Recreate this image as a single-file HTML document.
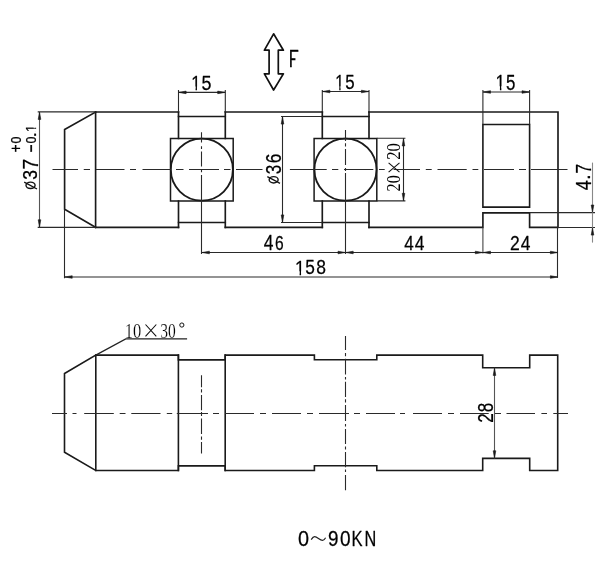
<!DOCTYPE html>
<html><head><meta charset="utf-8"><style>
html,body{margin:0;padding:0;background:#fff;}
svg{display:block;filter:grayscale(1);}
</style></head><body>
<svg width="600" height="565" viewBox="0 0 600 565">
<rect width="600" height="565" fill="#fff"/>
<g opacity="0.999">
<text x="0" y="0" font-size="2048" font-family="Liberation Sans" transform="matrix(0.008216 0.000000 0.000000 0.010291 191.281363 89.800000)" fill="#000" stroke="#000" stroke-width="27.0" stroke-linejoin="round">1</text>
<path transform="matrix(0.008216 0.000000 0.000000 0.010291 191.281363 89.800000)" fill="#fff" d="M50,-330 H520 V280 H50 Z M691,-330 H1150 V280 H691 Z"/>
<text x="0" y="0" font-size="2048" font-family="Liberation Sans" transform="matrix(0.008754 0.000000 0.000000 0.010147 201.482183 89.797061)" fill="#000" stroke="#000" stroke-width="26.5" stroke-linejoin="round">5</text>
<text x="0" y="0" font-size="2048" font-family="Liberation Sans" transform="matrix(0.007615 0.000000 0.000000 0.010504 335.299800 89.800000)" fill="#000" stroke="#000" stroke-width="27.6" stroke-linejoin="round">1</text>
<path transform="matrix(0.007615 0.000000 0.000000 0.010504 335.299800 89.800000)" fill="#fff" d="M50,-330 H520 V280 H50 Z M691,-330 H1150 V280 H691 Z"/>
<text x="0" y="0" font-size="2048" font-family="Liberation Sans" transform="matrix(0.008239 0.000000 0.000000 0.010007 345.324408 89.099860)" fill="#000" stroke="#000" stroke-width="27.4" stroke-linejoin="round">5</text>
<text x="0" y="0" font-size="2048" font-family="Liberation Sans" transform="matrix(0.008417 0.000000 0.000000 0.010504 495.541884 89.800000)" fill="#000" stroke="#000" stroke-width="26.4" stroke-linejoin="round">1</text>
<path transform="matrix(0.008417 0.000000 0.000000 0.010504 495.541884 89.800000)" fill="#fff" d="M50,-330 H520 V280 H50 Z M691,-330 H1150 V280 H691 Z"/>
<text x="0" y="0" font-size="2048" font-family="Liberation Sans" transform="matrix(0.008239 0.000000 0.000000 0.010357 506.124408 89.792862)" fill="#000" stroke="#000" stroke-width="26.9" stroke-linejoin="round">5</text>
<text x="0" y="0" font-size="2048" font-family="Liberation Sans" transform="matrix(0.008092 0.000000 0.000000 0.011427 288.840559 67.000000)" fill="#000" stroke="#000" stroke-width="25.6" stroke-linejoin="round">F</text>
<path transform="matrix(0.008092 0.000000 0.000000 0.011427 288.840559 67.000000)" fill="#fff" d="M815,-830 H1300 V-480 H815 Z"/>
<text x="0" y="0" font-size="2048" font-family="Liberation Sans" transform="matrix(0.008527 0.000000 0.000000 0.010362 263.799225 250.200000)" fill="#000" stroke="#000" stroke-width="26.5" stroke-linejoin="round">4</text>
<text x="0" y="0" font-size="2048" font-family="Liberation Sans" transform="matrix(0.007619 0.000000 0.000000 0.009931 275.007619 249.801379)" fill="#000" stroke="#000" stroke-width="28.5" stroke-linejoin="round">6</text>
<text x="0" y="0" font-size="2048" font-family="Liberation Sans" transform="matrix(0.008333 0.000000 0.000000 0.010220 404.208333 250.200000)" fill="#000" stroke="#000" stroke-width="26.9" stroke-linejoin="round">4</text>
<text x="0" y="0" font-size="2048" font-family="Liberation Sans" transform="matrix(0.008527 0.000000 0.000000 0.010220 414.799225 250.200000)" fill="#000" stroke="#000" stroke-width="26.7" stroke-linejoin="round">4</text>
<text x="0" y="0" font-size="2048" font-family="Liberation Sans" transform="matrix(0.008574 0.000000 0.000000 0.010210 510.116827 250.200000)" fill="#000" stroke="#000" stroke-width="26.6" stroke-linejoin="round">2</text>
<text x="0" y="0" font-size="2048" font-family="Liberation Sans" transform="matrix(0.008527 0.000000 0.000000 0.010220 520.799225 250.200000)" fill="#000" stroke="#000" stroke-width="26.7" stroke-linejoin="round">4</text>
<text x="0" y="0" font-size="2048" font-family="Liberation Sans" transform="matrix(0.008617 0.000000 0.000000 0.010078 295.102405 274.600000)" fill="#000" stroke="#000" stroke-width="26.7" stroke-linejoin="round">1</text>
<path transform="matrix(0.008617 0.000000 0.000000 0.010078 295.102405 274.600000)" fill="#fff" d="M50,-330 H520 V280 H50 Z M691,-330 H1150 V280 H691 Z"/>
<text x="0" y="0" font-size="2048" font-family="Liberation Sans" transform="matrix(0.008445 0.000000 0.000000 0.010147 305.207518 274.397061)" fill="#000" stroke="#000" stroke-width="26.9" stroke-linejoin="round">5</text>
<text x="0" y="0" font-size="2048" font-family="Liberation Sans" transform="matrix(0.008533 0.000000 0.000000 0.010000 316.240583 274.400000)" fill="#000" stroke="#000" stroke-width="27.0" stroke-linejoin="round">8</text>
<text x="0" y="0" font-size="2048" font-family="Liberation Serif" transform="matrix(0.008045 0.000000 0.000000 0.010637 124.851955 337.587265)" fill="#000" stroke="#fff" stroke-width="21.4">10</text>
<text x="0" y="0" font-size="2048" font-family="Liberation Serif" transform="matrix(0.007585 0.000000 0.000000 0.010637 160.356624 337.587265)" fill="#000" stroke="#fff" stroke-width="22.0">30</text>
<text x="0" y="0" font-size="2048" font-family="Liberation Sans" transform="matrix(0.009704 0.000000 0.000000 0.010414 297.923698 546.191724)" fill="#000" stroke="#000" stroke-width="24.9" stroke-linejoin="round">0</text>
<text x="0" y="0" font-size="2048" font-family="Liberation Sans" transform="matrix(0.009197 0.000000 0.000000 0.010552 328.117125 546.288966)" fill="#000" stroke="#000" stroke-width="25.3" stroke-linejoin="round">9</text>
<text x="0" y="0" font-size="2048" font-family="Liberation Sans" transform="matrix(0.009295 0.000000 0.000000 0.010552 339.956384 546.288966)" fill="#000" stroke="#000" stroke-width="25.2" stroke-linejoin="round">0</text>
<text x="0" y="0" font-size="2048" font-family="Liberation Sans" transform="matrix(0.008085 0.000000 0.000000 0.010646 351.541702 546.400000)" fill="#000" stroke="#000" stroke-width="26.7" stroke-linejoin="round">K</text>
<text x="0" y="0" font-size="2048" font-family="Liberation Sans" transform="matrix(0.007955 0.000000 0.000000 0.010646 364.563636 546.400000)" fill="#000" stroke="#000" stroke-width="26.9" stroke-linejoin="round">N</text>
<text x="0" y="0" font-size="2048" font-family="Liberation Sans" transform="matrix(0.000000 -0.008548 0.010276 0.000000 37.494483 179.666735)" fill="#000" stroke="#000" stroke-width="26.6" stroke-linejoin="round">3</text>
<text x="0" y="0" font-size="2048" font-family="Liberation Sans" transform="matrix(0.000000 -0.009345 0.010575 0.000000 37.700000 169.581203)" fill="#000" stroke="#000" stroke-width="25.1" stroke-linejoin="round">7</text>
<text x="0" y="0" font-size="2048" font-family="Liberation Sans" transform="matrix(0.000000 -0.006834 0.008483 0.000000 21.426946 152.483417)" fill="#000" stroke="#000" stroke-width="32.6" stroke-linejoin="round">+</text>
<text x="0" y="0" font-size="2048" font-family="Liberation Sans" transform="matrix(0.000000 -0.006129 0.007276 0.000000 20.654483 143.490296)" fill="#000" stroke="#000" stroke-width="37.3" stroke-linejoin="round">0</text>
<text x="0" y="0" font-size="2048" font-family="Liberation Sans" transform="matrix(0.000000 -0.006834 0.010274 0.000000 38.346575 152.490251)" fill="#000" stroke="#000" stroke-width="29.2" stroke-linejoin="round">&#8722;</text>
<text x="0" y="0" font-size="2048" font-family="Liberation Sans" transform="matrix(0.000000 -0.006129 0.006759 0.000000 35.764828 143.490296)" fill="#000" stroke="#000" stroke-width="38.8" stroke-linejoin="round">0</text>
<text x="0" y="0" font-size="2048" font-family="Liberation Sans" transform="matrix(0.000000 -0.010256 0.007763 0.000000 36.000000 137.817949)" fill="#000" stroke="#000" stroke-width="27.7" stroke-linejoin="round">.</text>
<text x="0" y="0" font-size="2048" font-family="Liberation Sans" transform="matrix(0.000000 -0.006212 0.006955 0.000000 35.900000 132.023848)" fill="#000" stroke="#000" stroke-width="38.0" stroke-linejoin="round">1</text>
<path transform="matrix(0.000000 -0.006212 0.006955 0.000000 35.900000 132.023848)" fill="#fff" d="M50,-330 H520 V280 H50 Z M691,-330 H1150 V280 H691 Z"/>
<text x="0" y="0" font-size="2048" font-family="Liberation Sans" transform="matrix(0.000000 -0.008342 0.010483 0.000000 280.890345 174.150669)" fill="#000" stroke="#000" stroke-width="26.6" stroke-linejoin="round">3</text>
<text x="0" y="0" font-size="2048" font-family="Liberation Sans" transform="matrix(0.000000 -0.008466 0.010345 0.000000 280.693103 163.280423)" fill="#000" stroke="#000" stroke-width="26.6" stroke-linejoin="round">6</text>
<text x="0" y="0" font-size="2048" font-family="Liberation Serif" transform="matrix(0.000000 -0.007872 0.009696 0.000000 400.106078 191.408511)" fill="#000">20</text>
<text x="0" y="0" font-size="2048" font-family="Liberation Serif" transform="matrix(0.000000 -0.008138 0.009696 0.000000 400.106078 159.832447)" fill="#000">20</text>
<text x="0" y="0" font-size="2048" font-family="Liberation Sans" transform="matrix(0.000000 -0.008721 0.010646 0.000000 590.900000 190.209884)" fill="#000" stroke="#000" stroke-width="25.8" stroke-linejoin="round">4</text>
<text x="0" y="0" font-size="2048" font-family="Liberation Sans" transform="matrix(0.000000 -0.010256 0.009589 0.000000 590.300000 179.917949)" fill="#000" stroke="#000" stroke-width="25.2" stroke-linejoin="round">.</text>
<text x="0" y="0" font-size="2048" font-family="Liberation Sans" transform="matrix(0.000000 -0.008378 0.010646 0.000000 590.900000 173.479699)" fill="#000" stroke="#000" stroke-width="26.3" stroke-linejoin="round">7</text>
<text x="0" y="0" font-size="2048" font-family="Liberation Sans" transform="matrix(0.000000 -0.008360 0.010490 0.000000 492.900000 422.861093)" fill="#000" stroke="#000" stroke-width="26.5" stroke-linejoin="round">2</text>
<text x="0" y="0" font-size="2048" font-family="Liberation Sans" transform="matrix(0.000000 -0.008325 0.010345 0.000000 492.693103 412.340895)" fill="#000" stroke="#000" stroke-width="26.8" stroke-linejoin="round">8</text>
<path d="M95.6,112 H178.5 M225.3,112 H322.3 M369,112 H558 V227.3 H529.6 V212.8 H482.9 V227.3 H369 M322.3,227.3 H225.3 M178.5,227.3 H95.6" stroke="#1a1a1a" stroke-width="1.65" fill="none" stroke-linecap="square"/>
<path d="M95.6,112 V227.3" stroke="#1a1a1a" stroke-width="1.65" fill="none" stroke-linecap="square"/>
<path d="M95.6,112 L64.6,129.6 V209.3 L95.6,227.3" stroke="#1a1a1a" stroke-width="1.65" fill="none" stroke-linecap="square"/>
<path d="M178.5,112 V138.5 M225.3,112 V138.5 M178.5,201 V227.3 M225.3,201 V227.3" stroke="#1a1a1a" stroke-width="1.65" fill="none" stroke-linecap="square"/>
<path d="M178.5,116.5 H225.3 M178.5,222.4 H225.3" stroke="#1a1a1a" stroke-width="1.5" fill="none" stroke-linecap="square"/>
<path d="M170.5,138.5 H233.2 V200.9 H170.5 Z" stroke="#1a1a1a" stroke-width="1.5" fill="none" stroke-linecap="square"/>
<circle cx="201.85" cy="169.6" r="31.049999999999994" stroke="#1a1a1a" stroke-width="1.85" fill="none"/>
<path d="M322.3,112 V138.5 M369,112 V138.5 M322.3,201 V227.3 M369,201 V227.3" stroke="#1a1a1a" stroke-width="1.65" fill="none" stroke-linecap="square"/>
<path d="M322.3,116.5 H369 M322.3,222.4 H369" stroke="#1a1a1a" stroke-width="1.5" fill="none" stroke-linecap="square"/>
<path d="M314.1,138.5 H376.8 V200.9 H314.1 Z" stroke="#1a1a1a" stroke-width="1.5" fill="none" stroke-linecap="square"/>
<circle cx="345.45000000000005" cy="169.6" r="31.049999999999994" stroke="#1a1a1a" stroke-width="1.85" fill="none"/>
<path d="M482.9,124.5 H529.6 V207.1 H482.9 Z" stroke="#1a1a1a" stroke-width="1.6" fill="none" stroke-linecap="square"/>
<path d="M37.7,111.8 H95.6 M37.7,227.4 H95.6" stroke="#2a2a2a" stroke-width="1.3" fill="none"/>
<path d="M39.5,112 V227.3" stroke="#555" stroke-width="1.1" fill="none"/>
<path d="M39.50,112.10 L40.80,119.40 L38.20,119.40 Z" fill="#1a1a1a" stroke="#1a1a1a" stroke-width="0.6" stroke-linejoin="round"/>
<path d="M39.50,227.10 L38.20,219.80 L40.80,219.80 Z" fill="#1a1a1a" stroke="#1a1a1a" stroke-width="0.6" stroke-linejoin="round"/>
<path d="M178.5,90 V112 M225.3,90 V112" stroke="#2a2a2a" stroke-width="1.1" fill="none"/>
<path d="M178.5,92.4 H225.3" stroke="#2a2a2a" stroke-width="1.1" fill="none"/>
<path d="M178.80,92.40 L186.10,91.10 L186.10,93.70 Z" fill="#1a1a1a" stroke="#1a1a1a" stroke-width="0.6" stroke-linejoin="round"/>
<path d="M225.00,92.40 L217.70,93.70 L217.70,91.10 Z" fill="#1a1a1a" stroke="#1a1a1a" stroke-width="0.6" stroke-linejoin="round"/>
<path d="M322.3,90 V112 M369,90 V112" stroke="#2a2a2a" stroke-width="1.1" fill="none"/>
<path d="M322.3,91.5 H369" stroke="#2a2a2a" stroke-width="1.1" fill="none"/>
<path d="M322.60,91.50 L329.90,90.20 L329.90,92.80 Z" fill="#1a1a1a" stroke="#1a1a1a" stroke-width="0.6" stroke-linejoin="round"/>
<path d="M368.70,91.50 L361.40,92.80 L361.40,90.20 Z" fill="#1a1a1a" stroke="#1a1a1a" stroke-width="0.6" stroke-linejoin="round"/>
<path d="M482.9,90 V112 M529.6,90 V112" stroke="#2a2a2a" stroke-width="1.1" fill="none"/>
<path d="M482.9,92.0 H529.6" stroke="#2a2a2a" stroke-width="1.1" fill="none"/>
<path d="M483.20,92.00 L490.50,90.70 L490.50,93.30 Z" fill="#1a1a1a" stroke="#1a1a1a" stroke-width="0.6" stroke-linejoin="round"/>
<path d="M529.30,92.00 L522.00,93.30 L522.00,90.70 Z" fill="#1a1a1a" stroke="#1a1a1a" stroke-width="0.6" stroke-linejoin="round"/>
<path d="M482.9,112 V124.5 M529.6,112 V124.5" stroke="#2a2a2a" stroke-width="1.1" fill="none"/>
<path d="M281,116.5 H322.3 M281,222.5 H322.3" stroke="#2a2a2a" stroke-width="1.1" fill="none"/>
<path d="M282.5,116.5 V222.5" stroke="#2a2a2a" stroke-width="1.1" fill="none"/>
<path d="M282.50,116.80 L283.80,124.10 L281.20,124.10 Z" fill="#1a1a1a" stroke="#1a1a1a" stroke-width="0.6" stroke-linejoin="round"/>
<path d="M282.50,222.20 L281.20,214.90 L283.80,214.90 Z" fill="#1a1a1a" stroke="#1a1a1a" stroke-width="0.6" stroke-linejoin="round"/>
<path d="M376.8,138.3 H405.4 M376.8,200.9 H405.4" stroke="#2a2a2a" stroke-width="1.1" fill="none"/>
<path d="M403.5,138.3 V200.9" stroke="#2a2a2a" stroke-width="1.1" fill="none"/>
<path d="M403.50,138.60 L404.80,145.90 L402.20,145.90 Z" fill="#1a1a1a" stroke="#1a1a1a" stroke-width="0.6" stroke-linejoin="round"/>
<path d="M403.50,200.60 L402.20,193.30 L404.80,193.30 Z" fill="#1a1a1a" stroke="#1a1a1a" stroke-width="0.6" stroke-linejoin="round"/>
<path d="M529.6,212.6 H595 M558,227.5 H595" stroke="#2a2a2a" stroke-width="1.1" fill="none"/>
<path d="M592.5,162.6 V242.6" stroke="#888" stroke-width="1.1" fill="none"/>
<path d="M592.50,212.30 L591.20,205.00 L593.80,205.00 Z" fill="#1a1a1a" stroke="#1a1a1a" stroke-width="0.6" stroke-linejoin="round"/>
<path d="M592.50,227.80 L593.80,235.10 L591.20,235.10 Z" fill="#1a1a1a" stroke="#1a1a1a" stroke-width="0.6" stroke-linejoin="round"/>
<path d="M482.9,227.5 V253.4" stroke="#444" stroke-width="1.1" fill="none"/>
<path d="M557.5,227 V277.7 M64.5,209.4 V278.3" stroke="#2a2a2a" stroke-width="1.1" fill="none"/>
<path d="M201.8,252.5 H558" stroke="#2a2a2a" stroke-width="1.1" fill="none"/>
<path d="M202.10,252.50 L209.40,251.20 L209.40,253.80 Z" fill="#1a1a1a" stroke="#1a1a1a" stroke-width="0.6" stroke-linejoin="round"/>
<path d="M345.30,252.50 L338.00,253.80 L338.00,251.20 Z" fill="#1a1a1a" stroke="#1a1a1a" stroke-width="0.6" stroke-linejoin="round"/>
<path d="M345.90,252.50 L353.20,251.20 L353.20,253.80 Z" fill="#1a1a1a" stroke="#1a1a1a" stroke-width="0.6" stroke-linejoin="round"/>
<path d="M482.60,252.50 L475.30,253.80 L475.30,251.20 Z" fill="#1a1a1a" stroke="#1a1a1a" stroke-width="0.6" stroke-linejoin="round"/>
<path d="M483.20,252.50 L490.50,251.20 L490.50,253.80 Z" fill="#1a1a1a" stroke="#1a1a1a" stroke-width="0.6" stroke-linejoin="round"/>
<path d="M557.70,252.50 L550.40,253.80 L550.40,251.20 Z" fill="#1a1a1a" stroke="#1a1a1a" stroke-width="0.6" stroke-linejoin="round"/>
<path d="M64.6,277 H558" stroke="#2a2a2a" stroke-width="1.1" fill="none"/>
<path d="M64.90,277.00 L72.20,275.70 L72.20,278.30 Z" fill="#1a1a1a" stroke="#1a1a1a" stroke-width="0.6" stroke-linejoin="round"/>
<path d="M557.70,277.00 L550.40,278.30 L550.40,275.70 Z" fill="#1a1a1a" stroke="#1a1a1a" stroke-width="0.6" stroke-linejoin="round"/>
<path d="M52.5,169.5 H78 M83.75,169.5 H90 M96,169.5 H124.5 M130,169.5 H136 M142.5,169.5 H171 M176,169.5 H183.5 M189,169.5 H219 M224,169.5 H230.5 M236,169.5 H262.5 M289.9,169.5 H326.7 M332,169.5 H338.3 M344,169.5 H373.3 M379,169.5 H384.7 M393.6,169.5 H420 M425.8,169.5 H431.7 M437.5,169.5 H466.7 M472.5,169.5 H478.3 M484,169.5 H514 M519,169.5 H526 M531,169.5 H567.5" stroke="#2a2a2a" stroke-width="1.1" fill="none"/>
<path d="M201.5,132.2 V142.6 M201.5,146.3 V149 M201.5,151.6 V166.5 M201.5,169.7 V172.3 M201.5,175 V254" stroke="#2a2a2a" stroke-width="1.1" fill="none"/>
<path d="M345.5,130 V141 M345.5,143.3 V146.5 M345.5,149 V165 M345.5,168 V171 M345.5,173 V254" stroke="#2a2a2a" stroke-width="1.1" fill="none"/>
<path d="M273.6,33.8 L283.4,50.2 H278.3 V73.8 H283.4 L273.6,90 L264.4,73.8 H269.1 V50.2 H264.4 Z" stroke="#111" stroke-width="1.7" fill="none" stroke-linejoin="round"/>
<ellipse cx="30.55" cy="185.35" rx="4.55" ry="3.2" stroke="#111" stroke-width="1.4" fill="none"/>
<path d="M24.2,182.2 L37,189.0" stroke="#111" stroke-width="1.4"/>
<ellipse cx="273.65" cy="179.8" rx="4.5" ry="3.15" stroke="#111" stroke-width="1.4" fill="none"/>
<path d="M267.3,176.7 L280.0,183.3" stroke="#111" stroke-width="1.4"/>
<path d="M388.6,162.8 L399.5,172.2 M388.6,172.2 L399.5,162.8" stroke="#111" stroke-width="1.1" fill="none"/>
<path d="M145.5,324.5 L156.3,336.4 M145.5,336.4 L156.3,324.5" stroke="#111" stroke-width="1.1" fill="none"/>
<circle cx="181.85" cy="325.05" r="2.1" stroke="#111" stroke-width="1" fill="none"/>
<path d="M311.2,539.6 C312.5,537.5 313.5,536.6 314.6,536.6 C317.5,536.6 319.5,540.4 322.6,540.4 C323.8,540.4 324.8,539.2 325.6,537.8" stroke="#222" stroke-width="1.2" fill="none"/>
<path d="M95.8,355.1 H178.4 V359.9 H225.2 V355.1 H314.4 V359.8 H376.8 V355.1 H482.7 V367.8 H529.7 V355.1 H557.7 V470.5 H529.7 V458.4 H482.7 V470.5 H376.8 V465.8 H314.4 V470.5 H225.2 V465.9 H178.4 V470.5 H95.8 Z" stroke="#1a1a1a" stroke-width="1.6" fill="none" stroke-linecap="square"/>
<path d="M95.8,355.1 L64.5,373.5 V452.3 L95.8,470.5" stroke="#1a1a1a" stroke-width="1.6" fill="none" stroke-linecap="square"/>
<path d="M178.4,355.1 V470.5 M225.2,355.1 V470.5" stroke="#1a1a1a" stroke-width="1.6" fill="none" stroke-linecap="square"/>
<path d="M95.8,355.1 L125.75,338.9 H187.1" stroke="#222" stroke-width="1.2" fill="none"/>
<path d="M52,413.5 H67 M72.5,413.5 H76.5 M84.2,413.5 H113.8 M119.7,413.5 H125.5 M131.3,413.5 H160.5 M166.8,413.5 H172.2 M176.8,413.5 H208 M213,413.5 H219 M225,413.5 H254 M260,413.5 H266 M272,413.5 H301 M307,413.5 H313 M319,413.5 H349 M354,413.5 H360 M366,413.5 H395 M400,413.5 H405 M413,413.5 H442 M448,413.5 H454 M460,413.5 H488.7 M494.6,413.5 H501 M506.5,413.5 H535 M541.4,413.5 H547 M553.3,413.5 H568" stroke="#2a2a2a" stroke-width="1.1" fill="none"/>
<path d="M201.5,375.3 V387.2 M201.5,389.2 V392.4 M201.5,394.9 V410.3 M201.5,412 V416 M201.5,418.5 V434 M201.5,436.4 V439.7 M201.5,442 V453.5" stroke="#2a2a2a" stroke-width="1.1" fill="none"/>
<path d="M345.5,336 V350 M345.5,353 V356.3 M345.5,358.7 V374.6 M345.5,377 V379.4 M345.5,381.8 V397 M345.5,399.3 V402.5 M345.5,405 V421 M345.5,424.1 V426.5 M345.5,428.9 V444 M345.5,446.4 V449.6 M345.5,452 V467.2 M345.5,469.5 V472 M345.5,475 V490.3" stroke="#2a2a2a" stroke-width="1.1" fill="none"/>
<path d="M494.5,367.8 V458.4" stroke="#555" stroke-width="1.1" fill="none"/>
<path d="M494.50,368.10 L495.80,375.40 L493.20,375.40 Z" fill="#1a1a1a" stroke="#1a1a1a" stroke-width="0.6" stroke-linejoin="round"/>
<path d="M494.50,458.10 L493.20,450.80 L495.80,450.80 Z" fill="#1a1a1a" stroke="#1a1a1a" stroke-width="0.6" stroke-linejoin="round"/>
</g>
</svg>
</body></html>
